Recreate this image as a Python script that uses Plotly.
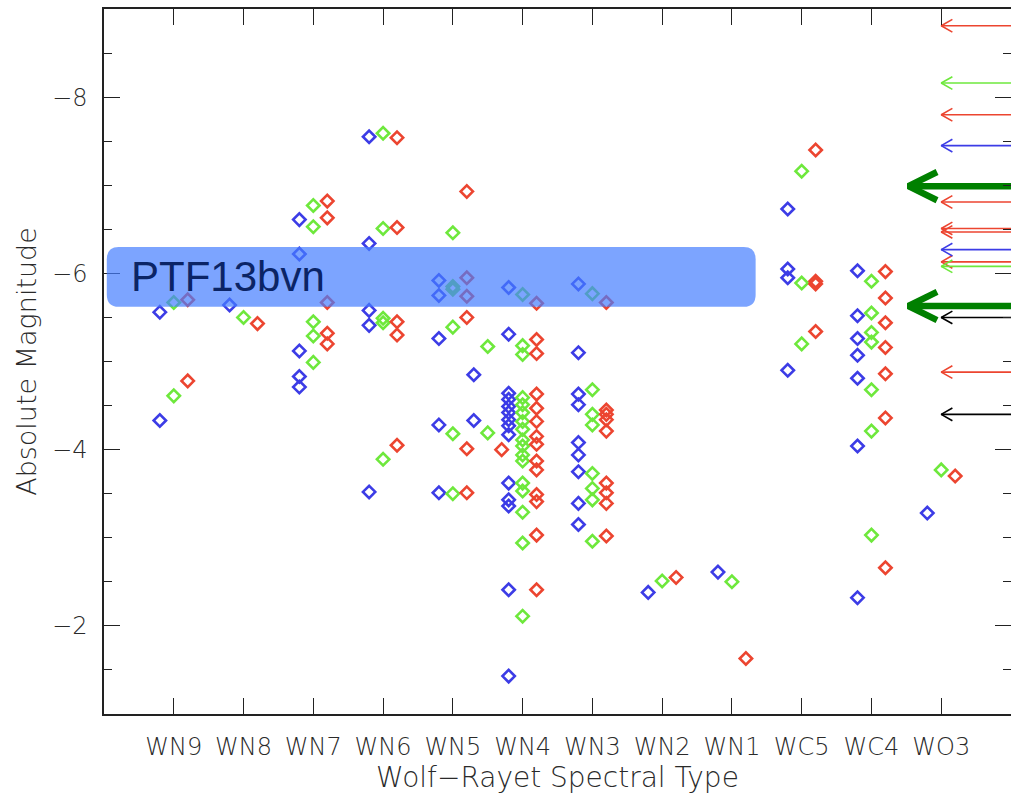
import plotly.graph_objects as go

# ---------------- data ----------------
type_labels = ["WN9", "WN8", "WN7", "WN6", "WN5", "WN4", "WN3", "WN2", "WN1", "WC5", "WC4", "WO3"]
type_pos = list(range(1, 13))

# blue points (spectral-type position, absolute magnitude)
blue_type = ([1] * 2 + [2] * 1 + [3] * 5 + [4] * 5 + [5] * 5 + [5.5] * 2 + [6] * 14 + [7] * 9
             + [8] * 1 + [9] * 1 + [10] * 4 + [11] * 7 + [12] * 1)
blue_mag = [-5.56, -4.33,
            -5.64,
            -6.61, -6.22, -5.12, -4.83, -4.71,
            -7.55, -6.34, -5.58, -5.41, -3.52,
            -5.92, -5.75, -5.26, -4.28, -3.51,
            -4.85, -4.33,
            -5.84, -5.31, -4.64, -4.57, -4.49, -4.42, -4.34, -4.27, -4.17, -3.62, -3.43, -3.36, -2.41, -1.43,
            -5.88, -5.10, -4.63, -4.51, -4.08, -3.94, -3.75, -3.39, -3.15,
            -2.38,
            -2.61,
            -6.73, -6.05, -5.95, -4.90,
            -6.03, -5.52, -5.26, -5.07, -4.81, -4.04, -2.32,
            -3.28]

# green points
green_type = ([1] * 2 + [2] * 1 + [3] * 5 + [4] * 5 + [5] * 6 + [5.5] * 2 + [6] * 17 + [7] * 8
              + [8] * 1 + [9] * 1 + [10] * 3 + [11] * 7 + [12] * 1)
green_mag = [-5.67, -4.61,
             -5.50,
             -6.77, -6.53, -5.45, -5.29, -4.99,
             -7.59, -6.51, -5.49, -5.44, -3.89,
             -6.46, -5.85, -5.82, -5.39, -4.18, -3.50,
             -5.17, -4.19,
             -5.76, -5.18, -5.08, -4.59, -4.51, -4.42, -4.32, -4.23, -4.11, -4.04, -3.94, -3.87, -3.62, -3.53,
             -3.29, -2.94, -2.11,
             -5.77, -4.68, -4.40, -4.28, -3.73, -3.56, -3.43, -2.96,
             -2.51,
             -2.50,
             -7.16, -5.89, -5.20,
             -5.91, -5.55, -5.33, -5.22, -4.68, -4.21, -3.03,
             -3.77]

# red points
red_type = ([1] * 2 + [2] * 1 + [3] * 5 + [4] * 5 + [5] * 6 + [5.5] * 1 + [6] * 14 + [7] * 9
            + [8] * 1 + [9] * 1 + [10] * 4 + [11] * 7 + [12] * 1)
red_mag = [-5.70, -4.78,
           -5.43,
           -6.82, -6.63, -5.67, -5.32, -5.20,
           -7.54, -6.52, -5.45, -5.30, -4.05,
           -6.93, -5.95, -5.74, -5.50, -4.01, -3.51,
           -4.00,
           -5.66, -5.25, -5.09, -4.63, -4.47, -4.32, -4.15, -4.06, -3.87, -3.77, -3.49, -3.41, -3.03, -2.41,
           -5.67, -4.45, -4.40, -4.34, -4.21, -3.62, -3.51, -3.39, -3.02,
           -2.55,
           -1.63,
           -7.40, -5.91, -5.88, -5.34,
           -6.02, -5.72, -5.44, -5.16, -4.86, -4.36, -2.66,
           -3.70]

# upper-limit arrows on the right (magnitude, colour key)
arrow_mag = [-8.81, -8.16, -7.80, -7.45, -6.81, -6.51, -6.47, -6.27, -6.13, -6.08, -5.50, -4.88, -4.40]
arrow_col = ["red", "green", "red", "blue", "red", "red", "red", "blue", "red", "green", "black", "red", "black"]
big_arrow_mag = [-6.99, -5.63]

# PTF13bvn band
band_label = "PTF13bvn"
band_mag_range = [-6.30, -5.62]
band_type_range = [0.04, 9.34]

# ---------------- styling ----------------
colors = {"blue": "#3c3ce6", "green": "#6ee83c", "red": "#ec4530", "black": "#000000"}
offsets = {"blue": -0.2, "green": 0.0, "red": 0.2}

fig = go.Figure()

for key, xs, ys in [("blue", blue_type, blue_mag), ("green", green_type, green_mag), ("red", red_type, red_mag)]:
    assert len(xs) == len(ys)
    fig.add_trace(go.Scatter(
        x=[x + offsets[key] for x in xs], y=ys, mode="markers",
        marker=dict(symbol="diamond-open", size=9.5, color=colors[key], line=dict(width=2.6, color=colors[key])),
        showlegend=False, hoverinfo="skip"))

# thin arrows
tip_x = 12.0
dx, dy = 0.16, 0.072
for key in ["red", "green", "blue", "black"]:
    xs, ys = [], []
    for m, c in zip(arrow_mag, arrow_col):
        if c != key:
            continue
        xs += [tip_x + dx, tip_x, tip_x + dx, None, tip_x, 13.6, None]
        ys += [m - dy, m, m + dy, None, m, m, None]
    fig.add_trace(go.Scatter(x=xs, y=ys, mode="lines", line=dict(color=colors[key], width=1.6),
                             showlegend=False, hoverinfo="skip"))

# thick green arrows
btip = 11.53
bdx, bdy = 0.41, 0.16
xs, ys = [], []
for m in big_arrow_mag:
    xs += [btip + bdx, btip, btip + bdx, None, btip, 13.6, None]
    ys += [m - bdy, m, m + bdy, None, m, m, None]
fig.add_trace(go.Scatter(x=xs, y=ys, mode="lines", line=dict(color="#008000", width=6.5),
                         showlegend=False, hoverinfo="skip"))

# rounded band
x0, x1 = band_type_range
y0, y1 = band_mag_range
rx, ry = 0.17, 0.14
path = (f"M {x0+rx},{y0} L {x1-rx},{y0} Q {x1},{y0} {x1},{y0+ry} L {x1},{y1-ry} "
        f"Q {x1},{y1} {x1-rx},{y1} L {x0+rx},{y1} Q {x0},{y1} {x0},{y1-ry} "
        f"L {x0},{y0+ry} Q {x0},{y0} {x0+rx},{y0} Z")
fig.add_shape(type="path", path=path, xref="x", yref="y", layer="above",
              fillcolor="rgba(69,126,255,0.70)", line=dict(width=0))
fig.add_annotation(x=x0 + 0.32, y=(y0 + y1) / 2, xref="x", yref="y", text=band_label, showarrow=False,
                   xanchor="left", yanchor="middle",
                   font=dict(family="Liberation Sans, Arial, sans-serif", size=42, color="#0b2466"))

tick_font = dict(family="DejaVu Sans, sans-serif", size=24, color="#2a2a2a", weight=200)
xtitle_font = dict(family="DejaVu Sans, sans-serif", size=28, color="#2a2a2a", weight=200)
ytitle_font = dict(family="DejaVu Sans, sans-serif", size=27, color="#2a2a2a", weight=200)

fig.update_layout(
    width=1011, height=796,
    margin=dict(l=104, r=0, t=9, b=82, autoexpand=False),
    paper_bgcolor="white", plot_bgcolor="white",
    xaxis=dict(range=[0, 13], tickmode="array", tickvals=type_pos, ticktext=type_labels,
               ticks="inside", ticklen=16, tickwidth=1.3, tickcolor="#222", automargin=False,
               showline=True, linecolor="#222", linewidth=1.5, mirror="ticks",
               showgrid=False, zeroline=False, tickfont=tick_font, ticklabelstandoff=10,
               title=dict(text="Wolf−Rayet Spectral Type", font=xtitle_font, standoff=3)),
    yaxis=dict(range=[-1, -9], tickmode="array", tickvals=[-8, -6, -4, -2],
               ticks="inside", ticklen=16, tickwidth=1.3, tickcolor="#222", automargin=False,
               minor=dict(tickmode="linear", tick0=0, dtick=0.5, ticks="inside", ticklen=8,
                          tickwidth=1.3, tickcolor="#222", showgrid=False),
               showline=True, linecolor="#222", linewidth=1.5, mirror="ticks",
               showgrid=False, zeroline=False, tickfont=tick_font, ticklabelstandoff=10,
               title=dict(text="Absolute Magnitude", font=ytitle_font, standoff=8)),
)

fig.write_html("out.html", config={"displayModeBar": False},
               post_script="document.body.style.margin='0';document.body.style.overflow='hidden';")
